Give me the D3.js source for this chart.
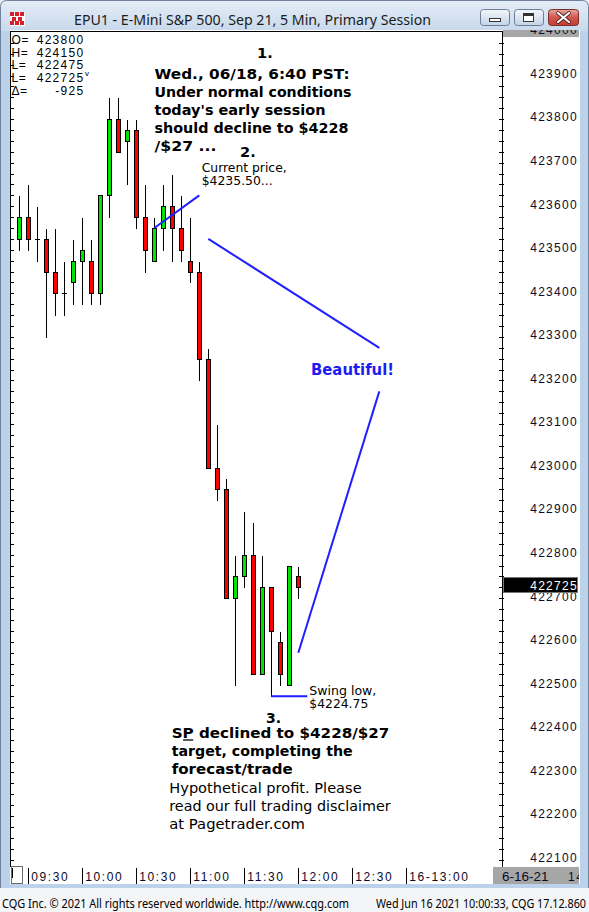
<!DOCTYPE html>
<html>
<head>
<meta charset="utf-8">
<title>EPU1 - E-Mini S&amp;P 500, Sep 21, 5 Min</title>
<script src="https://cdn.jsdelivr.net/npm/d3@7/dist/d3.min.js"></script>
<style>
  html, body { margin: 0; padding: 0; background: #ffffff; }
  svg { display: block; }
</style>
</head>
<body>
<svg id="chart" width="589" height="912"></svg>
<script>
// ---- E-mini S&P 500 (EPU1), 5-minute bars, primary session ----
const barTimes = ["09:25","09:30","09:35","09:40","09:45","09:50","09:55","10:00","10:05","10:10",
  "10:15","10:20","10:25","10:30","10:35","10:40","10:45","10:50","10:55","11:00",
  "11:05","11:10","11:15","11:20","11:25","11:30","11:35","11:40","11:45","11:50","11:55","12:00"];
const opens  = [423525,423575,423525,423525,423450,423400,423425,423475,423475,423400,
  423625,423800,423750,423775,423575,423475,423550,423600,423550,423475,
  423450,423250,423000,422950,422700,422750,422800,422525,422725,422600,422500,422750];
const highs  = [423625,423650,423600,423550,423550,423475,423525,423575,423525,423625,
  423850,423850,423800,423800,423650,423575,423650,423675,423625,423575,
  423475,423275,423100,422975,422800,422900,422875,422800,422725,422625,422775,422775];
const lows   = [423500,423500,423475,423300,423350,423350,423375,423375,423375,423375,
  423575,423725,423650,423550,423450,423475,423500,423475,423475,423425,
  423200,423000,422925,422700,422500,422725,422525,422525,422475,422500,422500,422700];
const closes = [423575,423525,423525,423450,423400,423400,423475,423500,423400,423625,
  423800,423725,423775,423575,423500,423550,423600,423550,423500,423450,
  423250,423000,422950,422700,422750,422800,422525,422725,422625,422525,422775,422725];

// price axis labels (every 100) and minor tick step
const priceLabels = [424000,423900,423800,423700,423600,423500,423400,423300,423200,423100,
  423000,422900,422800,422700,422600,422500,422400,422300,422200,422100];
const minorStep = 25;

// time axis
const timeTicks  = ["09:30","10:00","10:30","11:00","11:30","12:00","12:30","13:00"];
const timeLabels = ["09:30","10:00","10:30","11:00","11:30","12:00","12:30","16-13:00"];

// session summary block
const infoKeys   = ["O=","H=","L=","L=","\u0394="];
const infoValues = ["423800","424150","422475","422725","-925"];

// drawn trend / comment lines, in (time, price)
const annotationLines = [
  {t0:"10:40", p0:423550, t1:"11:05", p1:423625},
  {t0:"11:10", p0:423525, t1:"12:45", p1:423275},
  {t0:"12:00", p0:422575, t1:"12:45", p1:423175},
  {t0:"11:45", p0:422475, t1:"12:05", p1:422475}
];

const W = 589, H = 912;
const plot = {l: 10, r: 502, t: 32, b: 867};
const toMin = s => { const [h, m] = s.split(":").map(Number); return h * 60 + m; };

const x = d3.scaleLinear().domain([toMin("09:25"), toMin("12:00")]).range([19.3, 298.3]);
const y = d3.scaleLinear().domain([422083, 424000]).range([plot.b, plot.t]);

const svg = d3.select("#chart");
const defs = svg.append("defs");

const tb = defs.append("linearGradient").attr("id","titleGrad").attr("x1",0).attr("y1",0).attr("x2",0).attr("y2",1);
tb.append("stop").attr("offset","0%").attr("stop-color","#e4edf7");
tb.append("stop").attr("offset","100%").attr("stop-color","#c8d9ec");
const bg = defs.append("linearGradient").attr("id","btnGrad").attr("x1",0).attr("y1",0).attr("x2",0).attr("y2",1);
bg.append("stop").attr("offset","0%").attr("stop-color","#f3f7fb");
bg.append("stop").attr("offset","100%").attr("stop-color","#c3d3e6");
const cg = defs.append("linearGradient").attr("id","closeGrad").attr("x1",0).attr("y1",0).attr("x2",0).attr("y2",1);
cg.append("stop").attr("offset","0%").attr("stop-color","#e8a89f");
cg.append("stop").attr("offset","50%").attr("stop-color","#d0574c");
cg.append("stop").attr("offset","100%").attr("stop-color","#c13d32");

defs.append("clipPath").attr("id","plotClip").append("rect")
  .attr("x", plot.l).attr("y", plot.t).attr("width", plot.r - plot.l).attr("height", plot.b - plot.t);
defs.append("clipPath").attr("id","axisClip").append("rect")
  .attr("x", plot.r + 1).attr("y", 30).attr("width", 77).attr("height", plot.b - 30);
defs.append("clipPath").attr("id","dateClip").append("rect")
  .attr("x", 493).attr("y", 867).attr("width", 86).attr("height", 17);

function txt(parent, s, px, py, o = {}) {
  const t = parent.append("text").attr("x", px).attr("y", py).text(s)
    .attr("font-family", o.family || "'DejaVu Sans', Verdana, sans-serif")
    .attr("font-size", o.size || 14)
    .attr("font-weight", o.weight || "normal")
    .attr("fill", o.fill || "#000");
  if (o.anchor) t.attr("text-anchor", o.anchor);
  if (o.ls) t.attr("letter-spacing", o.ls);
  if (o.w) t.attr("textLength", o.w).attr("lengthAdjust", "spacingAndGlyphs");
  return t;
}

// ---- window frame ----
svg.append("rect").attr("width", W).attr("height", H).attr("fill", "#bcd2ea");
svg.append("rect").attr("x", 0).attr("y", 0).attr("width", W).attr("height", 31).attr("fill", "url(#titleGrad)");
svg.append("rect").attr("x", 0.5).attr("y", 0.5).attr("width", W - 1).attr("height", H + 10)
  .attr("rx", 6).attr("fill", "none").attr("stroke", "#6f829c");

// app icon
const icon = svg.append("g").attr("shape-rendering", "crispEdges");
icon.append("rect").attr("x", 10).attr("y", 12).attr("width", 15).attr("height", 14).attr("fill", "#ffffff");
[[10,12],[15,12],[20,12],[12,17],[18,17],[10,21],[15,21],[20,21]].forEach(([a, b]) =>
  icon.append("rect").attr("x", a).attr("y", b).attr("width", 4).attr("height", 4).attr("fill", "#d4202a"));

txt(svg, "EPU1 - E-Mini S&P 500, Sep 21, 5 Min, Primary Session", 74, 25,
  {family: "'Noto Sans', 'Open Sans', sans-serif", size: 14, fill: "#1b1b1b", w: 357});

// caption buttons
const btns = svg.append("g");
btns.append("rect").attr("x", 480.5).attr("y", 9.5).attr("width", 29).attr("height", 16).attr("rx", 3)
  .attr("fill", "url(#btnGrad)").attr("stroke", "#6b7d95");
btns.append("rect").attr("x", 489.5).attr("y", 18.5).attr("width", 11).attr("height", 3)
  .attr("fill", "#fff").attr("stroke", "#333");
btns.append("rect").attr("x", 514.5).attr("y", 9.5).attr("width", 29).attr("height", 16).attr("rx", 3)
  .attr("fill", "url(#btnGrad)").attr("stroke", "#6b7d95");
btns.append("rect").attr("x", 523.5).attr("y", 13.5).attr("width", 10).attr("height", 8)
  .attr("fill", "#fff").attr("stroke", "#333");
btns.append("rect").attr("x", 524).attr("y", 14).attr("width", 9).attr("height", 2).attr("fill", "#333");
btns.append("rect").attr("x", 548.5).attr("y", 9.5).attr("width", 30).attr("height", 16).attr("rx", 3)
  .attr("fill", "url(#closeGrad)").attr("stroke", "#7a2e28");
btns.append("path").attr("d", "M558,13 L569,22 M569,13 L558,22")
  .attr("stroke", "#4a1a16").attr("stroke-width", 3.6).attr("stroke-linecap", "round");
btns.append("path").attr("d", "M558,13 L569,22 M569,13 L558,22")
  .attr("stroke", "#ffffff").attr("stroke-width", 2.2).attr("stroke-linecap", "round");

// ---- chart panels ----
svg.append("rect").attr("x", plot.l).attr("y", 30).attr("width", 580 - plot.l).attr("height", plot.b - 30)
  .attr("fill", "#ffffff");
svg.append("rect").attr("x", plot.l + 0.5).attr("y", plot.t - 0.5).attr("width", plot.r - plot.l)
  .attr("height", plot.b - plot.t + 0.5).attr("fill", "none").attr("stroke", "#000")
  .attr("shape-rendering", "crispEdges");
svg.append("rect").attr("x", 503).attr("y", 30).attr("width", 76).attr("height", 7).attr("fill", "#a6a6a6");

// minor ticks on both price edges
const minorTicks = d3.range(priceLabels[priceLabels.length - 1] - minorStep, priceLabels[0] + 1, minorStep)
  .filter(v => y(v) > plot.t && y(v) < plot.b);
const tickG = svg.append("g").attr("stroke", "#000").attr("shape-rendering", "crispEdges");
tickG.selectAll("line.lt").data(minorTicks).join("line")
  .attr("x1", plot.l).attr("x2", plot.l + 4)
  .attr("y1", d => Math.round(y(d)) + 0.5).attr("y2", d => Math.round(y(d)) + 0.5);
tickG.selectAll("line.rt").data(minorTicks).join("line")
  .attr("x1", plot.r - 3).attr("x2", plot.r + 2)
  .attr("y1", d => Math.round(y(d)) + 0.5).attr("y2", d => Math.round(y(d)) + 0.5);

// price labels
const axisG = svg.append("g").attr("clip-path", "url(#axisClip)");
priceLabels.forEach(v => txt(axisG, String(v), 578, y(v) + 2.3,
  {family: "'Liberation Sans', Arial, sans-serif", size: 12, ls: 1.3, anchor: "end", fill: "#0a0a28"}));

// last price marker
const last = closes[closes.length - 1];
svg.append("rect").attr("x", 503.5).attr("y", Math.round(y(last)) - 9.5).attr("width", 74).attr("height", 15)
  .attr("fill", "#000").attr("stroke", "#777").attr("shape-rendering", "crispEdges");
txt(svg, String(last), 578, y(last) + 2.3,
  {family: "'Liberation Sans', Arial, sans-serif", size: 12, ls: 1.3, anchor: "end", fill: "#ffffff"});

// ---- candles ----
const bars = barTimes.map((t, i) => ({t, o: opens[i], h: highs[i], l: lows[i], c: closes[i]}));
const cx = d => Math.round(x(toMin(d.t))) + 0.5;
const py = v => Math.round(y(v)) + 0.5;
const candleG = svg.append("g").attr("clip-path", "url(#plotClip)").attr("shape-rendering", "crispEdges");
candleG.selectAll("line.wick").data(bars).join("line")
  .attr("x1", cx).attr("x2", cx).attr("y1", d => py(d.h)).attr("y2", d => py(d.l))
  .attr("stroke", "#000");
candleG.selectAll("rect.body").data(bars.filter(d => d.o !== d.c)).join("rect")
  .attr("x", d => cx(d) - 2).attr("width", 4)
  .attr("y", d => py(Math.max(d.o, d.c)))
  .attr("height", d => py(Math.min(d.o, d.c)) - py(Math.max(d.o, d.c)))
  .attr("fill", d => d.c > d.o ? "#00e400" : "#ff0000")
  .attr("stroke", "#000");
candleG.selectAll("line.doji").data(bars.filter(d => d.o === d.c)).join("line")
  .attr("x1", d => cx(d) - 2.5).attr("x2", d => cx(d) + 2.5)
  .attr("y1", d => py(d.c)).attr("y2", d => py(d.c)).attr("stroke", "#000");

// ---- annotation lines ----
svg.append("g").attr("clip-path", "url(#plotClip)").selectAll("line").data(annotationLines).join("line")
  .attr("x1", d => x(toMin(d.t0))).attr("y1", d => y(d.p0))
  .attr("x2", d => x(toMin(d.t1))).attr("y2", d => y(d.p1))
  .attr("stroke", "#1f1fff").attr("stroke-width", 2);

// ---- session summary ----
const infoG = svg.append("g");
infoKeys.forEach((k, i) => {
  const yy = [44.3, 56.8, 69.3, 81.8, 95.3][i];
  txt(infoG, k, 11.5, yy, {family: "'Liberation Sans', Arial, sans-serif", size: 12, ls: 0.6});
  txt(infoG, infoValues[i], 84.5, yy, {family: "'Liberation Sans', Arial, sans-serif", size: 12, ls: 1.3, anchor: "end"});
});
txt(infoG, "v", 85, 76, {family: "'Liberation Sans', Arial, sans-serif", size: 8});

// ---- commentary ----
const note = svg.append("g");
const bold = {weight: "bold", size: 14.6};
txt(note, "1.", 257, 58, bold);
[["Wed., 06/18, 6:40 PST:", 195], ["Under normal conditions", 197], ["today's early session", 171],
 ["should decline to $4228", 194], ["/$27 ...", 62]].forEach(([s, w], i) =>
  txt(note, s, 154.5, 78.5 + i * 18, Object.assign({w}, bold)));
txt(note, "2.", 240, 157, bold);
txt(note, "Current price,", 201.7, 171.5, {size: 12.5, w: 85});
txt(note, "$4235.50...", 201.7, 185, {size: 12.5, w: 71});

txt(note, "Beautiful!", 311, 374.5, {weight: "bold", size: 15, fill: "#1c1cf2", w: 83});

txt(note, "Swing low,", 309.3, 695, {size: 12.5, w: 67});
txt(note, "$4224.75", 309.3, 708.3, {size: 12.5, w: 59});

txt(note, "3.", 266, 722.5, {weight: "bold", size: 14});
const sp = txt(note, "SP declined to $4228/$27", 171.7, 738.3, Object.assign({w: 217.7}, bold));
const pBox = sp.node().getExtentOfChar(1);
note.append("line").attr("x1", pBox.x + 0.5).attr("x2", pBox.x + pBox.width - 0.5)
  .attr("y1", 740).attr("y2", 740).attr("stroke", "#000").attr("stroke-width", 1.3);
txt(note, "target, completing the", 171.7, 756, Object.assign({w: 181}, bold));
txt(note, "forecast/trade", 171.7, 774, Object.assign({w: 121}, bold));
txt(note, "Hypothetical profit. Please", 169.3, 793.3, {size: 14.5, w: 192.3});
txt(note, "read our full trading disclaimer", 169.3, 811, {size: 14.5, w: 221.3});
txt(note, "at Pagetrader.com", 169.3, 828.8, {size: 14.5, w: 135.7});

// ---- time axis ----
const timeG = svg.append("g");
timeG.append("rect").attr("x", 10).attr("y", 867).attr("width", 570).attr("height", 17).attr("fill", "#ffffff");
timeG.append("rect").attr("x", 11.5).attr("y", 866.5).attr("width", 11).attr("height", 17)
  .attr("fill", "#fff").attr("stroke", "#6a6a6a").attr("shape-rendering", "crispEdges");
timeG.append("line").attr("x1", 12.5).attr("x2", 12.5).attr("y1", 868).attr("y2", 878)
  .attr("stroke", "#000").attr("shape-rendering", "crispEdges");
timeG.selectAll("line.sep").data(timeTicks).join("line")
  .attr("x1", d => Math.round(x(toMin(d))) + 0.5).attr("x2", d => Math.round(x(toMin(d))) + 0.5)
  .attr("y1", 868).attr("y2", 884).attr("stroke", "#000").attr("shape-rendering", "crispEdges");
timeTicks.forEach((t, i) => txt(timeG, timeLabels[i], x(toMin(t)) + 3, 880.5,
  {family: "'Liberation Sans', Arial, sans-serif", size: 12, ls: 1.6, fill: "#0a0a28"}));
const dateG = timeG.append("g").attr("clip-path", "url(#dateClip)");
dateG.append("rect").attr("x", 493).attr("y", 867).attr("width", 86).attr("height", 17).attr("fill", "#a6a6a6");
txt(dateG, "6-16-21", 502, 880.5, {family: "'Liberation Sans', Arial, sans-serif", size: 12, w: 46.5, fill: "#0a0a28"});
txt(dateG, "14", 568, 880.5, {family: "'Liberation Sans', Arial, sans-serif", size: 12, ls: 1.6, fill: "#0a0a28"});

// ---- status bar ----
svg.append("rect").attr("x", 0).attr("y", 888).attr("width", W).attr("height", 24).attr("fill", "#f4f5f7");
txt(svg, "CQG Inc. \u00a9 2021 All rights reserved worldwide. http://www.cqg.com", 2, 907.5,
  {family: "'Noto Sans', 'Open Sans', sans-serif", size: 12, w: 347});
txt(svg, "Wed Jun 16 2021 10:00:33, CQG 17.12.860", 376, 907.5,
  {family: "'Noto Sans', 'Open Sans', sans-serif", size: 12, w: 210});
</script>
</body>
</html>
